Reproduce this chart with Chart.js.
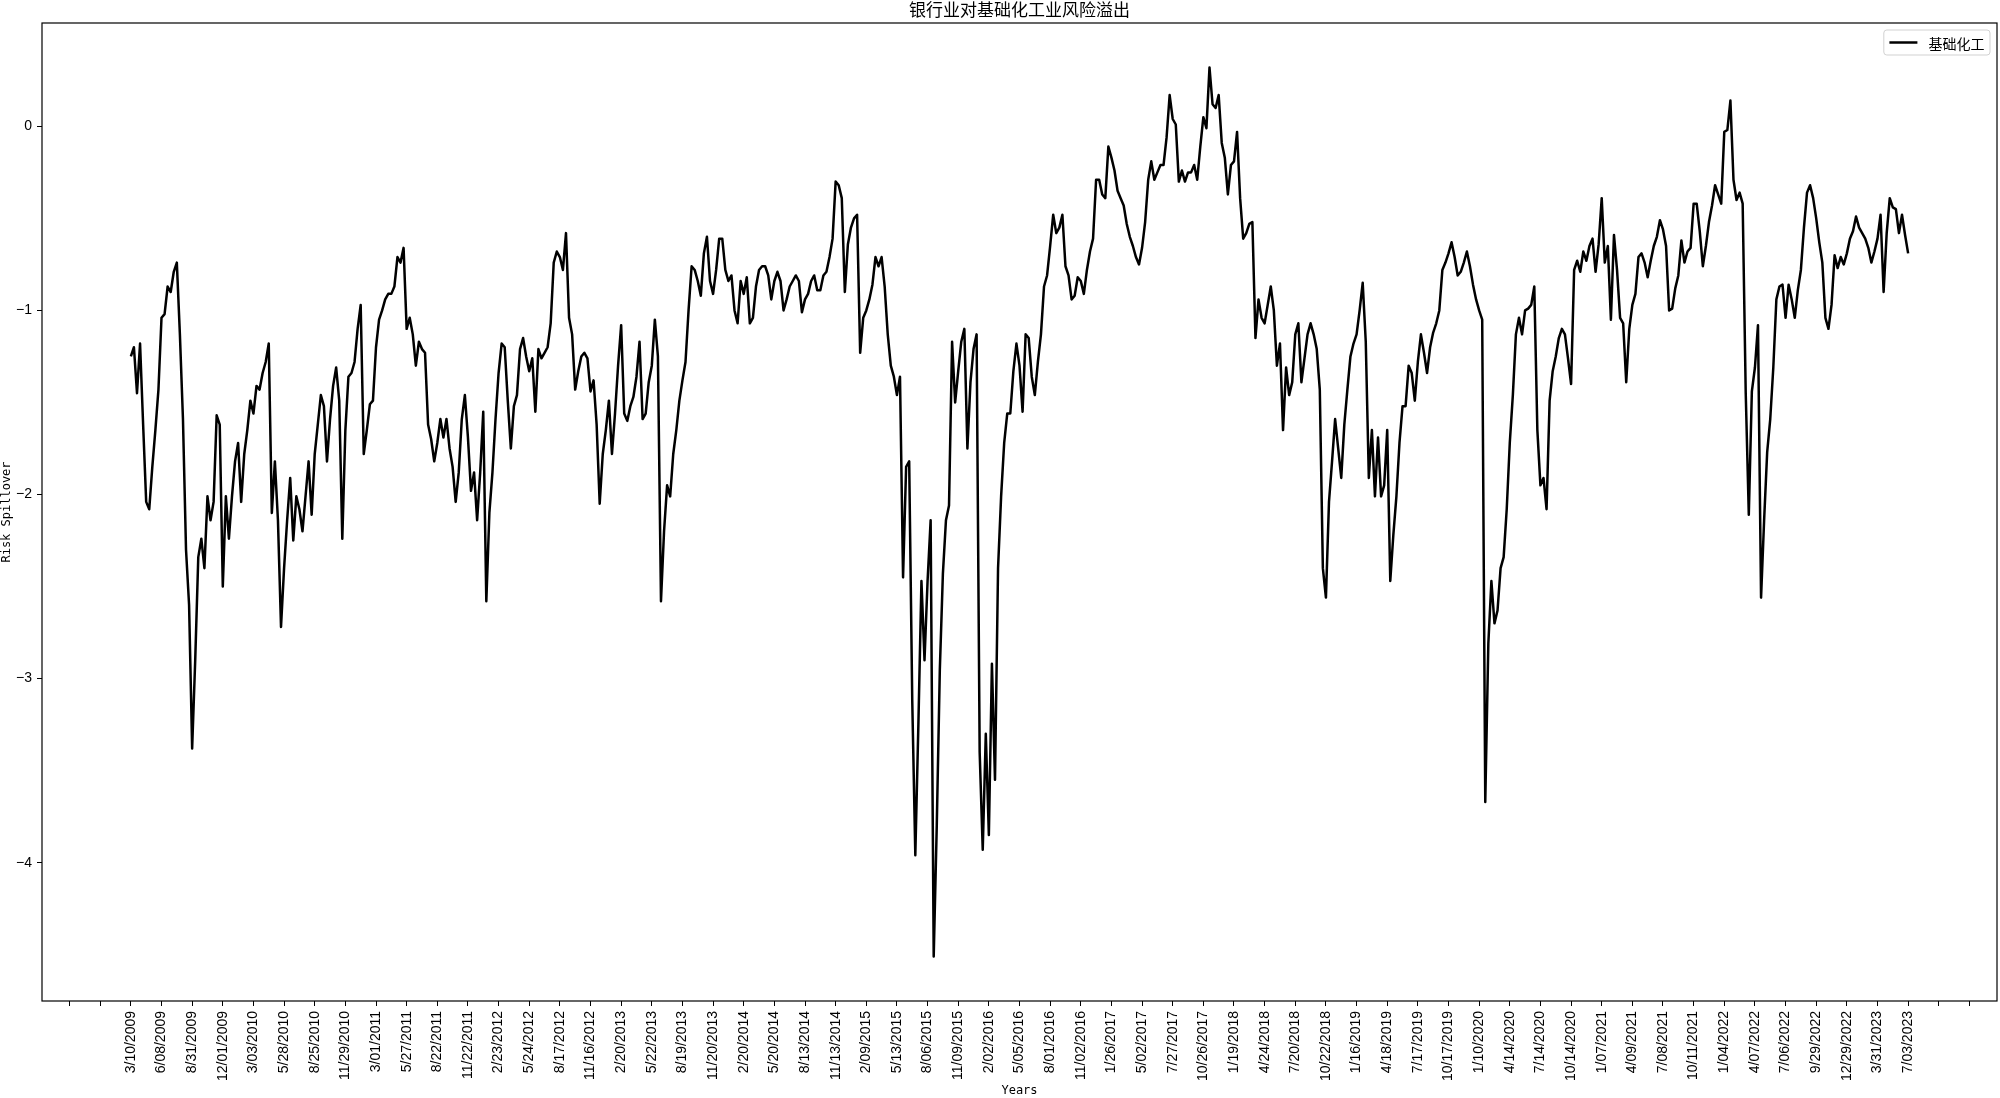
<!DOCTYPE html>
<html>
<head>
<meta charset="utf-8">
<script src="https://cdn.jsdelivr.net/npm/chart.js@4.4.1/dist/chart.umd.min.js"></script>
<style>
  html, body { margin: 0; padding: 0; background: #fff; }
  #wrap { width: 2000px; height: 1098px; }
</style>
</head>
<body>
<div id="wrap"><canvas id="myChart" width="2000" height="1098"></canvas></div>
<script>
// tick labels, one every 60 trading days
var tickDates = ['3/10/2009','6/08/2009','8/31/2009','12/01/2009','3/03/2010','5/28/2010','8/25/2010','11/29/2010',
  '3/01/2011','5/27/2011','8/22/2011','11/22/2011','2/23/2012','5/24/2012','8/17/2012','11/16/2012',
  '2/20/2013','5/22/2013','8/19/2013','11/20/2013','2/20/2014','5/20/2014','8/13/2014','11/13/2014',
  '2/09/2015','5/13/2015','8/06/2015','11/09/2015','2/02/2016','5/05/2016','8/01/2016','11/02/2016',
  '1/26/2017','5/02/2017','7/27/2017','10/26/2017','1/19/2018','4/24/2018','7/20/2018','10/22/2018',
  '1/16/2019','4/18/2019','7/17/2019','10/17/2019','1/10/2020','4/14/2020','7/14/2020','10/14/2020',
  '1/07/2021','4/09/2021','7/08/2021','10/11/2021','1/04/2022','4/07/2022','7/06/2022','9/29/2022',
  '12/29/2022','3/31/2023','7/03/2023'];

// samples per tick interval
var perTick = 10;

var seriesName = '基础化工';

// risk spillover (10 samples between consecutive ticks)
var spill = [
  -1.25,-1.20,-1.45,-1.18,-1.62,-2.04,-2.08,-1.85,-1.65,-1.43,
  -1.04,-1.02,-0.87,-0.90,-0.79,-0.74,-1.13,-1.59,-2.30,-2.60,
  -3.38,-2.90,-2.34,-2.24,-2.40,-2.01,-2.14,-2.04,-1.57,-1.62,
  -2.50,-2.01,-2.24,-2.01,-1.82,-1.72,-2.04,-1.78,-1.65,-1.49,
  -1.56,-1.41,-1.43,-1.34,-1.28,-1.18,-2.10,-1.82,-2.14,-2.72,
  -2.40,-2.14,-1.91,-2.25,-2.01,-2.08,-2.20,-2.01,-1.82,-2.11,
  -1.78,-1.62,-1.46,-1.52,-1.82,-1.59,-1.41,-1.31,-1.49,-2.24,
  -1.65,-1.36,-1.34,-1.28,-1.10,-0.97,-1.78,-1.65,-1.51,-1.49,
  -1.20,-1.05,-1.00,-0.94,-0.91,-0.91,-0.87,-0.71,-0.74,-0.66,
  -1.10,-1.04,-1.13,-1.30,-1.17,-1.21,-1.23,-1.62,-1.70,-1.82,
  -1.72,-1.59,-1.69,-1.59,-1.75,-1.85,-2.04,-1.88,-1.59,-1.46,
  -1.69,-1.98,-1.88,-2.14,-1.88,-1.55,-2.58,-2.10,-1.88,-1.59,
  -1.34,-1.18,-1.20,-1.49,-1.75,-1.52,-1.46,-1.21,-1.15,-1.25,
  -1.33,-1.26,-1.55,-1.21,-1.26,-1.23,-1.20,-1.07,-0.74,-0.68,
  -0.71,-0.78,-0.58,-1.04,-1.13,-1.43,-1.33,-1.25,-1.23,-1.26,
  -1.44,-1.38,-1.62,-2.05,-1.78,-1.65,-1.49,-1.78,-1.56,-1.30,
  -1.08,-1.56,-1.60,-1.52,-1.47,-1.36,-1.17,-1.59,-1.56,-1.39,
  -1.30,-1.05,-1.25,-2.58,-2.20,-1.95,-2.01,-1.78,-1.65,-1.49,
  -1.38,-1.28,-1.00,-0.76,-0.78,-0.84,-0.92,-0.69,-0.60,-0.84,
  -0.91,-0.78,-0.61,-0.61,-0.78,-0.84,-0.81,-1.00,-1.07,-0.84,
  -0.91,-0.82,-1.07,-1.04,-0.87,-0.78,-0.76,-0.76,-0.81,-0.94,
  -0.84,-0.79,-0.84,-1.00,-0.94,-0.87,-0.84,-0.81,-0.84,-1.01,
  -0.94,-0.91,-0.84,-0.81,-0.89,-0.89,-0.81,-0.79,-0.71,-0.61,
  -0.30,-0.32,-0.39,-0.90,-0.64,-0.55,-0.50,-0.48,-1.23,-1.04,
  -1.00,-0.94,-0.86,-0.71,-0.76,-0.71,-0.87,-1.13,-1.30,-1.36,
  -1.46,-1.36,-2.45,-1.85,-1.82,-3.12,-3.96,-3.25,-2.47,-2.90,
  -2.47,-2.14,-4.51,-3.80,-2.95,-2.43,-2.14,-2.06,-1.17,-1.50,
  -1.33,-1.17,-1.10,-1.75,-1.39,-1.21,-1.13,-3.40,-3.93,-3.30,
  -3.85,-2.92,-3.55,-2.40,-2.01,-1.72,-1.56,-1.56,-1.33,-1.18,
  -1.30,-1.55,-1.13,-1.15,-1.36,-1.46,-1.28,-1.13,-0.87,-0.81,
  -0.65,-0.48,-0.58,-0.55,-0.48,-0.76,-0.81,-0.94,-0.92,-0.82,
  -0.84,-0.91,-0.78,-0.68,-0.61,-0.29,-0.29,-0.37,-0.39,-0.11,
  -0.17,-0.24,-0.35,-0.39,-0.43,-0.53,-0.60,-0.65,-0.71,-0.75,
  -0.66,-0.52,-0.29,-0.19,-0.29,-0.25,-0.21,-0.21,-0.06, 0.17,
   0.04, 0.01,-0.30,-0.24,-0.30,-0.25,-0.25,-0.21,-0.29,-0.11,
   0.05,-0.01, 0.32, 0.12, 0.10, 0.17,-0.09,-0.17,-0.37,-0.21,
  -0.19,-0.03,-0.39,-0.61,-0.58,-0.53,-0.52,-1.15,-0.94,-1.04,
  -1.07,-0.97,-0.87,-1.00,-1.30,-1.18,-1.65,-1.31,-1.46,-1.39,
  -1.13,-1.07,-1.39,-1.26,-1.13,-1.07,-1.13,-1.21,-1.43,-2.40,
  -2.56,-2.04,-1.82,-1.59,-1.75,-1.91,-1.62,-1.43,-1.25,-1.18,
  -1.13,-1.00,-0.85,-1.17,-1.91,-1.65,-2.01,-1.69,-2.01,-1.95,
  -1.65,-2.47,-2.22,-2.01,-1.72,-1.52,-1.52,-1.30,-1.34,-1.49,
  -1.28,-1.13,-1.23,-1.34,-1.20,-1.12,-1.07,-1.00,-0.78,-0.74,
  -0.69,-0.63,-0.71,-0.81,-0.79,-0.74,-0.68,-0.76,-0.86,-0.94,
  -1.00,-1.05,-3.67,-2.81,-2.47,-2.70,-2.63,-2.40,-2.34,-2.08,
  -1.72,-1.46,-1.13,-1.04,-1.13,-1.00,-0.99,-0.97,-0.87,-1.65,
  -1.95,-1.91,-2.08,-1.49,-1.33,-1.25,-1.15,-1.10,-1.13,-1.26,
  -1.40,-0.78,-0.73,-0.79,-0.68,-0.73,-0.65,-0.61,-0.79,-0.64,
  -0.39,-0.74,-0.65,-1.05,-0.59,-0.78,-1.04,-1.07,-1.39,-1.10,
  -0.97,-0.91,-0.71,-0.69,-0.74,-0.82,-0.73,-0.65,-0.60,-0.51,
  -0.56,-0.65,-1.00,-0.99,-0.88,-0.81,-0.62,-0.74,-0.68,-0.66,
  -0.42,-0.42,-0.57,-0.76,-0.65,-0.52,-0.43,-0.32,-0.37,-0.42,
  -0.03,-0.02, 0.14,-0.29,-0.40,-0.36,-0.42,-1.45,-2.11,-1.44,
  -1.31,-1.08,-2.56,-2.14,-1.77,-1.59,-1.31,-0.94,-0.87,-0.86,
  -1.04,-0.86,-0.94,-1.04,-0.89,-0.78,-0.55,-0.36,-0.32,-0.39,
  -0.50,-0.63,-0.74,-1.04,-1.10,-0.97,-0.70,-0.77,-0.71,-0.75,
  -0.69,-0.61,-0.57,-0.49,-0.55,-0.58,-0.61,-0.66,-0.74,-0.68,
  -0.61,-0.48,-0.90,-0.58,-0.39,-0.44,-0.45,-0.58,-0.48,-0.59,
  -0.69
];

var points = spill.map(function(v, i) {
  return {x: i / perTick, y: v};
});

// 5% margins like matplotlib
var lastTick = tickDates.length - 1;
var xPad = lastTick * 0.05;
var yLo = Math.min.apply(null, spill), yHi = Math.max.apply(null, spill);
var yPad = (yHi - yLo) * 0.05;

function integerTicks(axis) {
  var t = [];
  for (var v = Math.ceil(axis.min); v <= axis.max; v++) t.push({value: v});
  axis.ticks = t;
}

var frameAndLegend = {
  id: 'frameAndLegend',
  afterDraw: function(chart) {
    var ctx = chart.ctx, a = chart.chartArea;
    ctx.save();
    ctx.strokeStyle = '#000';
    ctx.lineWidth = 1.2;
    ctx.strokeRect(a.left, a.top, a.right - a.left, a.bottom - a.top);

    var ds = chart.data.datasets[0];
    ctx.font = '14px "Noto Sans CJK SC"';
    var tw = ctx.measureText(ds.label).width;
    var pad = 5.6, hl = 28, gap = 11;
    var w = pad + hl + gap + tw + pad, h = 25;
    var x = a.right - 7 - w, y = a.top + 7;
    ctx.beginPath();
    ctx.roundRect(x, y, w, h, 3);
    ctx.fillStyle = 'rgba(255,255,255,0.8)';
    ctx.fill();
    ctx.strokeStyle = 'rgba(204,204,204,0.9)';
    ctx.lineWidth = 1;
    ctx.stroke();
    ctx.beginPath();
    ctx.moveTo(x + pad, y + h / 2);
    ctx.lineTo(x + pad + hl, y + h / 2);
    ctx.strokeStyle = ds.borderColor;
    ctx.lineWidth = ds.borderWidth;
    ctx.stroke();
    ctx.fillStyle = '#000';
    ctx.textBaseline = 'middle';
    ctx.fillText(ds.label, x + pad + hl + gap, y + h / 2 + 1);
    ctx.restore();
  }
};

new Chart('myChart', {
  type: 'line',
  data: {
    datasets: [{
      label: seriesName,
      data: points,
      borderColor: '#000',
      borderWidth: 2.5,
      pointRadius: 0,
      fill: false,
      tension: 0,
      borderJoinStyle: 'round'
    }]
  },
  options: {
    responsive: false,
    animation: false,
    devicePixelRatio: 1,
    layout: { padding: { top: 0, right: 3, bottom: 0, left: 0 } },
    plugins: {
      legend: { display: false },
      tooltip: { enabled: false },
      title: {
        display: true,
        fullSize: false,
        text: '银行业对基础化工业风险溢出',
        color: '#000',
        font: { family: '"Noto Sans CJK SC"', size: 17, weight: 'normal', lineHeight: 1.1 },
        padding: { top: 0, bottom: 4.3 }
      }
    },
    scales: {
      x: {
        type: 'linear',
        min: -xPad,
        max: lastTick + xPad,
        afterBuildTicks: integerTicks,
        afterFit: function(s) { s.height = 97; },
        border: { display: false },
        grid: { drawOnChartArea: false, drawTicks: true, tickLength: 5, color: '#000' },
        ticks: {
          autoSkip: false,
          minRotation: 90,
          maxRotation: 90,
          padding: 5,
          color: '#000',
          font: { family: '"Liberation Sans"', size: 14 },
          callback: function(v) { return tickDates[v] || ''; }
        },
        title: {
          display: true,
          text: 'Years',
          color: '#000',
          padding: { top: 0, bottom: 0 },
          font: { family: '"DejaVu Sans Mono"', size: 12 }
        }
      },
      y: {
        min: yLo - yPad,
        max: yHi + yPad,
        afterBuildTicks: integerTicks,
        afterFit: function(s) { s.width = 42; },
        border: { display: false },
        grid: { drawOnChartArea: false, drawTicks: true, tickLength: 5, color: '#000' },
        ticks: {
          padding: 5,
          color: '#000',
          font: { family: '"Liberation Sans"', size: 14 },
          callback: function(v) { return v < 0 ? '\u2212' + Math.abs(v) : String(v); }
        },
        title: {
          display: true,
          text: 'Risk Spillover',
          color: '#000',
          padding: { top: 0, bottom: 0 },
          font: { family: '"DejaVu Sans Mono"', size: 12 }
        }
      }
    }
  },
  plugins: [frameAndLegend]
});
</script>
</body>
</html>
